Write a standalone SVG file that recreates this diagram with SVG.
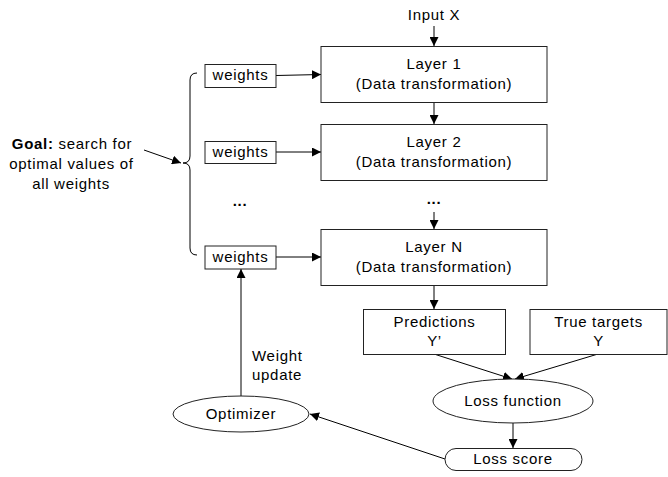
<svg xmlns="http://www.w3.org/2000/svg" width="668" height="477" viewBox="0 0 668 477">
<defs>
<marker id="ah" viewBox="0 0 10 10" refX="10" refY="5" markerWidth="9" markerHeight="9" markerUnits="userSpaceOnUse" orient="auto">
<path d="M0,0 L10,5 L0,10 Z" fill="#000"/>
</marker>
<style>
text{font-family:"Liberation Sans",Arial,sans-serif;font-size:15px;letter-spacing:0.7px;fill:#000}
.c{text-anchor:middle}
.box{fill:#fff;stroke:#222;stroke-width:1}
.ln{fill:none;stroke:#000;stroke-width:1}
.ar{fill:none;stroke:#000;stroke-width:1;marker-end:url(#ah)}
.dots{font-weight:bold}
</style>
</defs>
<rect width="668" height="477" fill="#fff"/>

<g id="connectors">
<line class="ar" x1="434" y1="26" x2="434" y2="46"/>
<line class="ar" x1="434" y1="102" x2="434" y2="124"/>
<line class="ar" x1="434" y1="212" x2="434" y2="229"/>
<line class="ar" x1="434" y1="285" x2="434" y2="309"/>
<line class="ar" x1="276" y1="75.5" x2="321" y2="74.5"/>
<line class="ar" x1="276" y1="152" x2="321" y2="152"/>
<line class="ar" x1="276" y1="257" x2="321" y2="257"/>
<line class="ar" x1="434" y1="354" x2="512" y2="379"/>
<line class="ar" x1="598" y1="354" x2="515" y2="379"/>
<line class="ar" x1="513" y1="423" x2="513" y2="448"/>
<line class="ar" x1="445" y1="459" x2="310" y2="414"/>
<line class="ar" x1="241" y1="396" x2="241" y2="269"/>
<line class="ar" x1="144" y1="150" x2="181" y2="163"/>
<path class="ln" d="M197,73 Q190,73 190,80 L190,156 Q190,163 183,163 Q190,163 190,170 L190,248 Q190,255 197,255"/>
</g>

<g id="input"><text class="c" x="434" y="20">Input X</text></g>

<g id="layer1">
<rect class="box" x="321" y="46.5" width="226" height="56"/>
<text class="c" x="434" y="68.5">Layer 1</text>
<text class="c" x="434" y="88.5">(Data transformation)</text>
</g>
<g id="layer2">
<rect class="box" x="321" y="124.5" width="226" height="56"/>
<text class="c" x="434" y="147">Layer 2</text>
<text class="c" x="434" y="167">(Data transformation)</text>
</g>
<g id="dots-layers"><text class="c dots" x="434" y="204">...</text></g>
<g id="layerN">
<rect class="box" x="321" y="229.5" width="226" height="56"/>
<text class="c" x="434" y="252">Layer N</text>
<text class="c" x="434" y="272">(Data transformation)</text>
</g>

<g id="weights1">
<rect class="box" x="205" y="64.5" width="71" height="23"/>
<text class="c" x="240.5" y="80">weights</text>
</g>
<g id="weights2">
<rect class="box" x="205" y="141.5" width="71" height="22"/>
<text class="c" x="240.5" y="157">weights</text>
</g>
<g id="dots-weights"><text class="c dots" x="240" y="206">...</text></g>
<g id="weights3">
<rect class="box" x="205" y="246" width="71" height="23"/>
<text class="c" x="240.5" y="261.5">weights</text>
</g>

<g id="goal">
<text class="c" x="72" y="148.5"><tspan font-weight="bold">Goal:</tspan> search for</text>
<text class="c" x="71.5" y="168.5">optimal values of</text>
<text class="c" x="71" y="188.5">all weights</text>
</g>

<g id="predictions">
<rect class="box" x="363.5" y="309.5" width="142" height="45"/>
<text class="c" x="434.5" y="327">Predictions</text>
<text class="c" x="434.5" y="346">Y’</text>
</g>
<g id="targets">
<rect class="box" x="530" y="309.5" width="137" height="45"/>
<text class="c" x="598.5" y="327">True targets</text>
<text class="c" x="598.5" y="346">Y</text>
</g>

<g id="loss-function">
<ellipse class="box" cx="513" cy="401" rx="80" ry="22"/>
<text class="c" x="513" y="406">Loss function</text>
</g>
<g id="loss-score">
<rect class="box" x="445" y="448.5" width="137" height="22" rx="11"/>
<text class="c" x="513" y="464">Loss score</text>
</g>
<g id="optimizer">
<ellipse class="box" cx="241" cy="414" rx="68" ry="18"/>
<text class="c" x="241" y="419">Optimizer</text>
</g>
<g id="weight-update">
<text x="252" y="361">Weight</text>
<text x="252" y="380">update</text>
</g>
</svg>
